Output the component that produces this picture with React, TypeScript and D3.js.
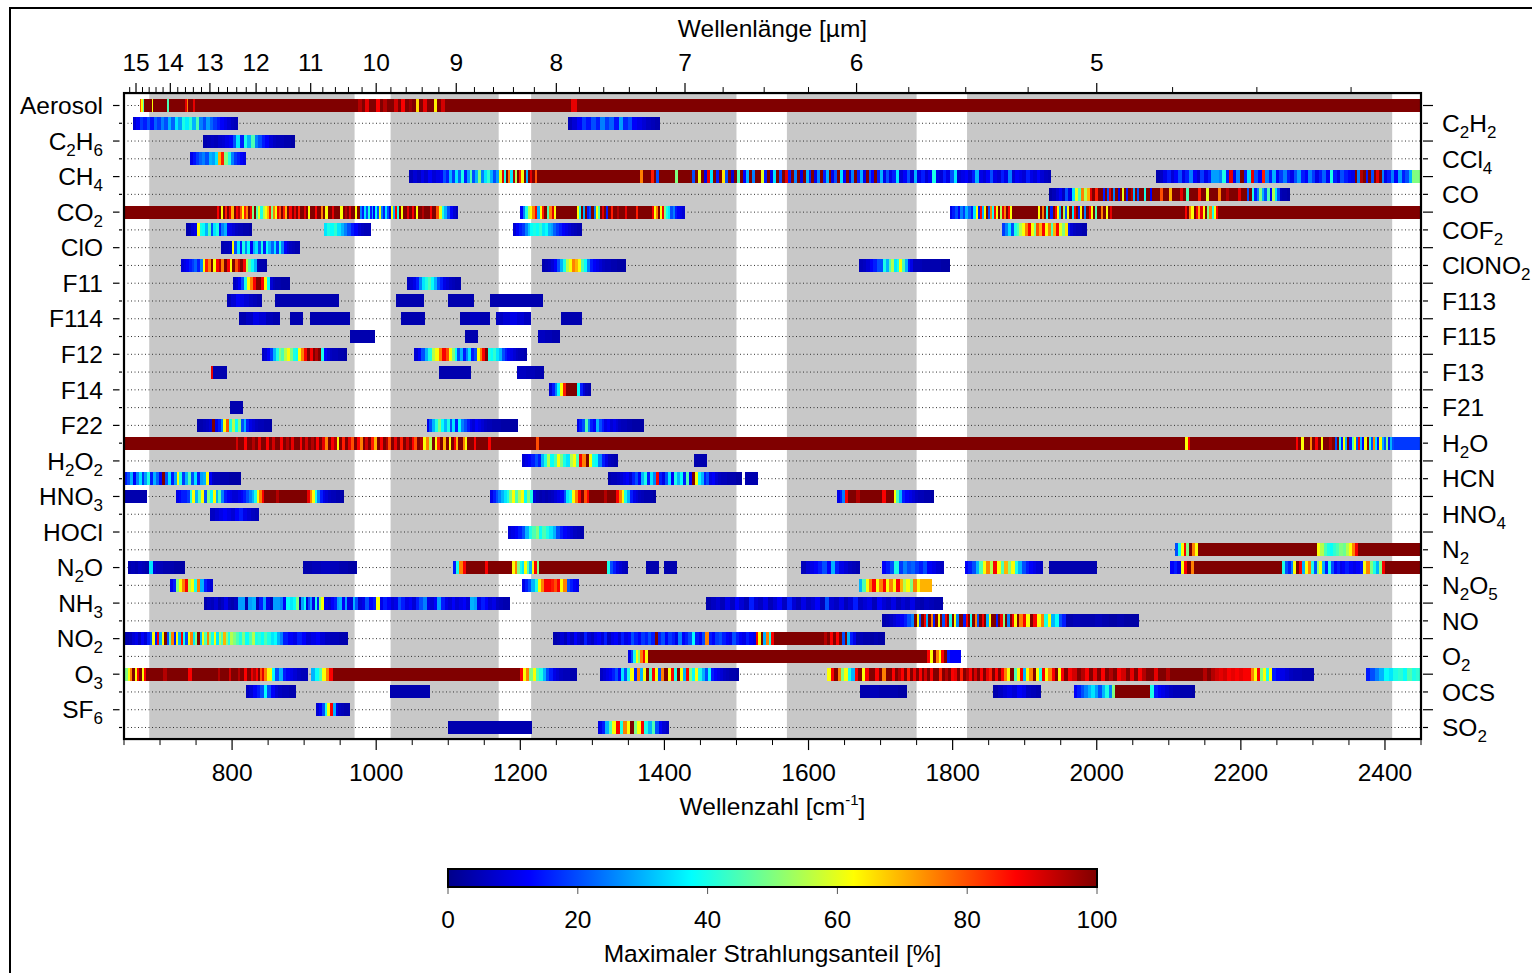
import React from "react";
import * as d3 from "d3";

type Piece = [number, number, number[]];

// Row labels in plotting order (underscore marks a subscript digit)
const gasNames = [
  "Aerosol", "C_2H_2", "C_2H_6", "CCl_4", "CH_4", "CO", "CO_2", "COF_2", "ClO", "ClONO_2",
  "F11", "F113", "F114", "F115", "F12", "F13", "F14", "F21", "F22", "H_2O",
  "H_2O_2", "HCN", "HNO_3", "HNO_4", "HOCl", "N_2", "N_2O", "N_2O_5", "NH_3", "NO",
  "NO_2", "O_2", "O_3", "OCS", "SF_6", "SO_2",
];

// MIPAS spectral bands (cm^-1)
const mipasBands: [number, number][] = [
  [685, 970], [1020, 1170], [1215, 1500], [1570, 1750], [1820, 2410],
];

const wavenumberLabels = [800, 1000, 1200, 1400, 1600, 1800, 2000, 2200, 2400];
const wavelengthLabels = [15, 14, 13, 12, 11, 10, 9, 8, 7, 6, 5];
const wavelengthMinor = [
  15.2, 14.8, 14.6, 14.4, 14.2, 13.8, 13.6, 13.4, 13.2, 12.8, 12.6, 12.4, 12.2,
  11.8, 11.6, 11.4, 11.2, 10.8, 10.6, 10.4, 10.2, 9.8, 9.6, 9.4, 9.2,
  8.8, 8.6, 8.4, 8.2, 7.8, 7.6, 7.4, 7.2, 6.75, 6.5, 6.25, 5.75, 5.5, 5.25,
  4.75, 4.5, 4.25,
];
const colorbarTicks = [0, 20, 40, 60, 80, 100];

// Maximum radiance contribution [%] per gas: [from, to, values spread evenly]
const aerosol: Piece[] = [
  [672, 714, [80, 62, 45, 100, 100, 100, 100, 100, 62, 100, 100, 100, 100, 100, 100, 100, 100, 100, 45, 100]],
  [714, 760, [100, 100, 100, 100, 100, 100, 100, 100, 100, 90, 75, 100, 100, 100, 90, 100, 100, 100, 100, 100]],
  [760, 970, [100]],
  [970, 1100, [100, 95, 100, 90, 100, 100, 88, 100, 95, 100, 100, 92, 100, 88, 100, 97, 100, 66, 100, 90, 100, 100, 64, 100, 92, 100]],
  [1100, 1270, [100]],
  [1270, 1278, [90]],
  [1278, 2450, [100]],
];
const c2h2: Piece[] = [
  [662, 808, [8, 12, 18, 15, 20, 14, 22, 18, 25, 20, 30, 22, 35, 28, 40, 36, 42, 30, 45, 25, 20, 28, 22, 18, 15, 12, 10, 8, 6, 5]],
  [1266, 1394, [5, 8, 12, 18, 14, 20, 15, 25, 18, 22, 14, 28, 16, 20, 12, 10, 8, 6, 5, 4]],
];
const c2h6: Piece[] = [
  [760, 887, [4, 5, 6, 5, 7, 8, 10, 12, 20, 35, 15, 40, 30, 45, 25, 20, 15, 12, 8, 6, 5, 5, 4, 4, 3]],
];
const ccl4: Piece[] = [
  [741, 820, [10, 14, 18, 22, 25, 20, 30, 28, 35, 70, 85, 50, 40, 25, 18, 15, 12, 10]],
];
const ch4: Piece[] = [
  [1046, 1088, [5, 8, 6, 10, 7, 12, 8, 10]],
  [1088, 1171, [12, 20, 15, 30, 18, 35, 22, 40, 15, 28, 45, 20, 30, 50, 25, 35, 42, 30, 20, 28]],
  [1171, 1226, [60, 90, 40, 100, 75, 35, 95, 55, 100, 85, 62, 100, 30, 100, 90, 100, 80, 100]],
  [1226, 1366, [100]],
  [1366, 1434, [75, 100, 100, 100, 85, 100, 20, 100, 100, 100, 100, 100, 100, 50, 100, 100, 100, 100]],
  [1434, 1600, [100, 20, 100, 60, 100, 10, 90, 35, 100, 15, 100, 65, 20, 100, 8, 100, 45, 100, 12, 30, 100, 25, 100, 100, 60, 15, 100, 10, 35, 100, 20, 100, 90, 15, 100, 25, 100, 10, 100, 30]],
  [1600, 1711, [15, 100, 10, 25, 100, 15, 30, 100, 10, 20, 100, 35, 12, 100, 8, 25, 100, 15, 30, 10, 100, 20, 12, 100, 15, 30, 10, 20]],
  [1711, 1937, [10, 15, 35, 8, 12, 20, 8, 30, 10, 15, 8, 12, 40, 10, 8, 15, 10, 20, 35, 8, 10, 12, 8, 15, 30, 10, 8, 12, 20, 10, 8, 15, 10, 25, 8, 12, 10, 8, 15, 10, 8, 12, 8, 6, 5]],
  [2082, 2159, [4, 6, 10, 15, 8, 12, 20, 10, 15, 25, 12, 8, 18, 10, 15]],
  [2159, 2174, [28, 28, 28, 25]],
  [2174, 2358, [40, 15, 90, 10, 25, 100, 15, 35, 90, 20, 12, 85, 25, 15, 30, 12, 18, 25, 15, 10, 20, 28, 15, 12, 25, 18, 10, 15, 22, 12, 40, 15, 10, 20, 15, 12, 10]],
  [2358, 2403, [100, 25, 95, 100, 15, 100, 20, 100, 90, 100, 25, 10]],
  [2403, 2438, [15, 25, 12, 28, 15, 20, 30]],
  [2438, 2450, [50, 50]],
];
const co: Piece[] = [
  [1934, 1965, [3, 5, 8, 12, 6, 20, 10]],
  [1965, 1990, [35, 60, 45, 75, 55, 70]],
  [1990, 2005, [90, 100, 85, 100]],
  [2005, 2080, [100, 15, 100, 20, 90, 100, 25, 100, 10, 100, 60, 100, 15, 100, 95, 30, 100, 20, 100, 100, 40, 100, 100, 12, 100]],
  [2080, 2208, [100, 100, 80, 100, 100, 70, 100, 100, 100, 90, 100, 45, 100, 100, 100, 85, 100, 100, 60, 100, 100, 100, 75, 100, 100, 95, 100, 100, 100, 90, 100, 100]],
  [2208, 2254, [20, 100, 40, 15, 25, 50, 30, 20, 45, 12, 55, 35, 20]],
  [2254, 2268, [5, 4, 4, 3]],
];
const co2: Piece[] = [
  [650, 779, [100]],
  [779, 894, [88, 100, 62, 100, 85, 100, 90, 70, 100, 88, 95, 80, 62, 85, 75, 100, 88, 50, 100, 45, 60, 40, 55, 62, 70, 85, 50, 75, 62, 90, 80, 100, 85, 70, 100, 88, 100, 90, 100, 85]],
  [894, 977, [100, 100, 90, 100, 62, 100, 100, 88, 100, 100, 75, 100, 62, 100, 100, 90, 100, 100, 100, 62, 100, 95, 100, 90, 100, 100, 62, 100]],
  [977, 1032, [25, 15, 35, 20, 40, 15, 30, 12, 38, 20, 60, 25, 15, 35, 20, 10, 62, 30, 88, 40]],
  [1032, 1083, [100, 62, 100, 100, 90, 100, 88, 100, 62, 100, 100, 95, 100, 100, 100, 88, 100, 100]],
  [1083, 1114, [80, 60, 40, 30, 20, 12, 8, 5]],
  [1200, 1250, [12, 25, 40, 55, 62, 75, 88, 30, 62, 85, 100, 45, 75, 90, 62]],
  [1250, 1278, [100]],
  [1278, 1337, [62, 40, 100, 30, 100, 15, 20, 100, 25, 62, 45, 100, 90, 100, 15, 100, 85, 100, 100, 95]],
  [1337, 1383, [100, 100, 90, 100, 100, 100, 85, 100, 100, 100, 100, 100]],
  [1383, 1405, [88, 62, 75, 100, 62, 88, 50, 40]],
  [1405, 1428, [35, 20, 25, 15, 12, 10, 8]],
  [1796, 1832, [10, 15, 20, 12, 25, 18, 30, 22, 15, 35]],
  [1832, 1882, [62, 15, 88, 30, 62, 100, 20, 75, 40, 88, 62, 100, 55, 90, 75, 100, 88, 62]],
  [1882, 1918, [100]],
  [1918, 2021, [62, 100, 75, 100, 40, 100, 15, 100, 88, 62, 30, 100, 55, 20, 62, 100, 35, 88, 100, 15, 62, 100, 25, 100, 88, 62, 100, 45, 100, 100, 75, 100, 62, 100, 90]],
  [2021, 2122, [100]],
  [2122, 2172, [88, 100, 75, 62, 100, 88, 70, 90, 62, 100, 50, 75, 40, 62, 88, 100]],
  [2172, 2450, [100]],
];
const cof2: Piece[] = [
  [736, 827, [4, 5, 8, 10, 62, 40, 38, 30, 45, 20, 35, 40, 15, 25, 30, 12, 10, 8, 6, 5, 5, 4, 4, 3]],
  [927, 993, [35, 40, 38, 42, 35, 30, 25, 20, 15, 12, 8, 6, 5, 5]],
  [1190, 1286, [8, 12, 15, 18, 25, 32, 38, 40, 38, 42, 35, 38, 30, 28, 22, 18, 15, 12, 10, 8, 6, 5, 4, 4]],
  [1869, 1987, [18, 25, 35, 20, 40, 45, 55, 62, 75, 88, 62, 50, 80, 70, 88, 62, 75, 45, 70, 88, 60, 50, 65, 15, 8, 6, 5, 5, 4, 4]],
];
const clo: Piece[] = [
  [785, 894, [4, 5, 5, 6, 62, 20, 35, 15, 40, 25, 38, 12, 30, 35, 20, 40, 15, 38, 30, 22, 35, 18, 40, 25, 12, 8, 6, 5, 4, 4]],
];
const clono2: Piece[] = [
  [729, 849, [8, 10, 12, 15, 18, 22, 15, 25, 62, 85, 75, 100, 62, 88, 95, 75, 100, 88, 62, 100, 80, 92, 100, 88, 55, 45, 38, 30, 5, 4, 4, 3]],
  [1230, 1347, [4, 5, 6, 8, 12, 20, 30, 40, 55, 62, 75, 70, 62, 45, 38, 25, 15, 12, 10, 8, 6, 5, 5, 4, 4, 3, 3, 3]],
  [1670, 1700, [5, 6, 8, 12, 15, 20]],
  [1700, 1745, [20, 40, 30, 45, 55, 35, 40, 62, 45, 30, 15, 10]],
  [1745, 1796, [5, 4, 4, 3]],
];
const f11: Piece[] = [
  [801, 880, [6, 8, 12, 20, 40, 62, 75, 88, 100, 100, 88, 62, 38, 8, 5, 4, 4, 3, 3, 3]],
  [1043, 1118, [6, 8, 10, 15, 25, 35, 40, 45, 38, 30, 20, 15, 10, 8, 6, 5, 4, 4]],
];
const f113: Piece[] = [
  [793, 841, [5, 8, 12, 10, 8, 6, 5, 4]],
  [860, 948, [4]],
  [1028, 1067, [4]],
  [1099, 1136, [4]],
  [1158, 1232, [4]],
];
const f114: Piece[] = [
  [810, 866, [4, 6, 10, 8, 5, 4]],
  [880, 898, [4]],
  [908, 963, [4]],
  [1035, 1068, [4]],
  [1116, 1158, [4, 6, 4]],
  [1166, 1215, [6, 8, 10, 8, 6]],
  [1257, 1285, [4]],
];
const f115: Piece[] = [
  [963, 999, [4]],
  [1123, 1141, [4]],
  [1224, 1255, [6, 5, 4]],
];
const f12: Piece[] = [
  [841, 959, [6, 8, 12, 18, 30, 40, 50, 45, 55, 62, 50, 40, 38, 62, 75, 88, 100, 88, 100, 95, 100, 40, 12, 8, 6, 5, 5, 4, 4, 3]],
  [1053, 1101, [8, 12, 20, 30, 40, 55, 62, 75, 88, 80]],
  [1101, 1209, [62, 50, 38, 20, 30, 15, 25, 35, 15, 20, 62, 75, 88, 100, 40, 38, 42, 35, 30, 20, 15, 12, 10, 8, 6, 5, 5, 4]],
];
const f13: Piece[] = [
  [771, 773, [90]],
  [773, 793, [4]],
  [1087, 1131, [4]],
  [1195, 1233, [6, 5, 4]],
];
const f14: Piece[] = [
  [1240, 1298, [8, 15, 25, 38, 62, 85, 100, 100, 100, 100, 38, 15, 8, 5, 4]],
];
const f21: Piece[] = [
  [797, 815, [4]],
];
const f22: Piece[] = [
  [752, 856, [4, 4, 5, 6, 8, 100, 10, 15, 25, 62, 80, 40, 55, 38, 50, 20, 30, 15, 10, 8, 6, 5, 5, 4, 4, 3]],
  [1070, 1197, [10, 20, 30, 40, 50, 38, 30, 40, 20, 35, 15, 38, 25, 20, 15, 10, 8, 12, 10, 8, 6, 5, 5, 4, 4, 4, 3, 3, 3, 3, 3, 3]],
  [1278, 1371, [10, 15, 20, 45, 25, 15, 12, 30, 20, 15, 10, 12, 8, 10, 8, 6, 5, 5, 4, 4, 3, 3, 3, 3]],
];
const h2o: Piece[] = [
  [650, 801, [100]],
  [801, 917, [100, 92, 100, 100, 88, 100, 100, 95, 100, 90, 100, 100, 88, 100, 92, 100, 100, 88, 100, 95, 100, 90, 100, 100, 88, 100, 92, 100, 95, 100]],
  [917, 1101, [88, 100, 90, 75, 100, 88, 95, 62, 100, 85, 100, 90, 80, 100, 88, 75, 100, 92, 100, 85, 70, 100, 88, 100, 95, 80, 100, 90, 100, 85, 100, 92, 100, 88, 80, 100, 95, 62, 75, 55, 100, 62, 85, 100, 70, 100]],
  [1101, 1139, [62, 100, 88, 70, 100, 100, 75, 62, 100, 100, 100, 88]],
  [1139, 1230, [100, 100, 100, 100, 88, 100, 100, 100, 100, 100, 100, 100, 100, 100, 100, 100, 100, 100, 100, 100, 100, 80, 100]],
  [1230, 2122, [100]],
  [2122, 2130, [62, 88]],
  [2130, 2276, [100]],
  [2276, 2330, [88, 100, 62, 100, 100, 75, 100, 88, 100, 62, 100, 100, 95, 100]],
  [2330, 2413, [20, 100, 40, 15, 62, 30, 100, 15, 45, 62, 20, 88, 30, 12, 62, 100, 40, 20, 75, 35, 15, 62, 30, 20, 50, 15, 30, 20]],
  [2413, 2450, [18, 18]],
];
const h2o2: Piece[] = [
  [1202, 1335, [8, 10, 12, 15, 20, 15, 30, 40, 55, 38, 45, 62, 50, 40, 35, 55, 62, 45, 88, 75, 100, 62, 40, 38, 25, 15, 10, 6, 5, 4]],
  [1441, 1459, [4]],
];
const hcn: Piece[] = [
  [650, 812, [15, 20, 30, 12, 25, 35, 18, 28, 40, 15, 30, 22, 12, 100, 20, 35, 15, 28, 62, 40, 18, 30, 45, 20, 35, 15, 28, 30, 62, 12, 6, 5, 5, 4, 4, 4, 3, 3, 3, 3]],
  [1322, 1508, [4, 5, 5, 6, 8, 10, 12, 8, 15, 20, 12, 30, 40, 15, 35, 25, 88, 15, 10, 20, 35, 12, 40, 30, 38, 15, 45, 12, 100, 62, 38, 30, 15, 20, 10, 12, 8, 6, 5, 5, 4, 4, 4, 3, 3]],
  [1512, 1530, [4]],
];
const hno3: Piece[] = [
  [652, 682, [4]],
  [722, 741, [10, 12, 15, 15, 18]],
  [741, 789, [40, 62, 30, 45, 62, 20, 50, 38, 62, 30, 45, 25]],
  [789, 831, [15, 12, 10, 8, 8, 10, 12, 15, 20, 25, 30]],
  [831, 841, [40, 62, 75]],
  [841, 908, [88, 100, 100, 100, 100, 95, 100, 100, 100, 100, 100, 100, 100, 100, 100, 100, 90]],
  [908, 918, [75, 62, 40]],
  [918, 956, [25, 15, 10, 8, 6, 5, 5, 4, 4, 3]],
  [1158, 1181, [10, 15, 20, 25, 30, 35]],
  [1181, 1217, [40, 50, 62, 45, 55, 62, 38, 50, 40]],
  [1217, 1260, [8, 5, 4, 5, 4, 5, 6, 8, 10, 12]],
  [1260, 1272, [20, 35, 40]],
  [1272, 1296, [62, 75, 88, 100, 80, 88]],
  [1296, 1333, [100, 100, 100, 100, 100, 95, 100, 100, 100]],
  [1333, 1352, [88, 75, 62, 40, 30]],
  [1352, 1388, [15, 10, 8, 6, 5, 4, 4, 4, 3]],
  [1639, 1655, [10, 15, 25, 88]],
  [1655, 1718, [100, 100, 95, 100, 100, 100, 100, 100, 100, 88, 100, 100]],
  [1718, 1730, [62, 45, 30]],
  [1730, 1774, [15, 12, 10, 8, 6, 5, 5, 4, 4, 3]],
];
const hno4: Piece[] = [
  [770, 838, [6, 8, 10, 12, 10, 8, 12, 15, 10, 8, 6, 5]],
];
const hocl: Piece[] = [
  [1183, 1288, [8, 10, 12, 15, 20, 30, 40, 45, 50, 38, 45, 40, 35, 30, 20, 15, 12, 10, 8, 6, 5, 4]],
];
const n2: Piece[] = [
  [2109, 2140, [20, 40, 62, 88, 50, 100, 75, 62]],
  [2140, 2306, [100]],
  [2306, 2363, [62, 55, 45, 40, 38, 42, 45, 50, 48, 55, 62, 75, 88]],
  [2363, 2450, [100]],
];
const n2o: Piece[] = [
  [655, 734, [4, 5, 4, 6, 5, 4, 35, 8, 6, 5, 4, 4, 4, 3, 3, 3]],
  [898, 974, [4, 5, 6, 5, 4, 3]],
  [1106, 1130, [15, 40, 75, 88, 100]],
  [1130, 1189, [100, 100, 100, 100, 100, 88, 100, 100, 100, 100, 100, 100, 100, 100]],
  [1189, 1226, [62, 75, 50, 40, 35, 62, 45, 30, 62, 88, 50]],
  [1226, 1320, [100]],
  [1320, 1349, [40, 20, 15, 10, 8, 6, 5]],
  [1375, 1393, [4]],
  [1400, 1418, [4]],
  [1590, 1672, [5, 8, 10, 12, 15, 20, 12, 30, 15, 10, 8, 6, 5, 4]],
  [1702, 1788, [12, 15, 20, 40, 18, 25, 20, 22, 18, 15, 20, 12, 10, 8, 6]],
  [1817, 1926, [12, 15, 20, 30, 45, 62, 75, 55, 88, 62, 45, 70, 50, 62, 40, 30, 20, 15, 12, 10, 8, 6]],
  [1934, 2001, [4]],
  [2102, 2140, [12, 15, 10, 62, 88, 100, 75, 100]],
  [2140, 2257, [100]],
  [2257, 2345, [40, 20, 15, 25, 62, 100, 88, 30, 62, 75, 40, 20, 50, 62, 30, 15, 40, 20, 12, 15, 10, 12]],
  [2345, 2370, [15, 12, 10, 12, 15]],
  [2370, 2400, [62, 75, 50, 40, 30, 50, 88]],
  [2400, 2450, [100]],
];
const n2o5: Piece[] = [
  [714, 773, [10, 15, 50, 62, 75, 88, 55, 62, 40, 75, 30, 15, 10, 8]],
  [1202, 1282, [10, 15, 20, 30, 40, 62, 75, 88, 88, 85, 80, 88, 62, 75, 20, 15, 12, 10]],
  [1670, 1712, [30, 45, 62, 75, 88, 62, 75, 88, 62]],
  [1712, 1755, [75, 62, 88, 70, 55, 62, 50, 75, 62]],
  [1755, 1772, [70]],
];
const nh3: Piece[] = [
  [761, 808, [4, 6, 5, 8, 4, 6, 10, 5, 4, 6]],
  [808, 857, [28, 28, 4, 28, 30, 5, 15, 28, 10, 5]],
  [857, 880, [28, 28, 25, 12, 38]],
  [880, 893, [35, 38, 50]],
  [893, 930, [4, 28, 38, 8, 20, 28, 10, 40, 15, 50, 62, 10]],
  [930, 975, [10, 8, 12, 15, 28, 30, 12, 28, 10, 8, 30, 20]],
  [975, 1040, [8, 10, 20, 12, 15, 62, 10, 15, 12, 8, 10, 20, 15]],
  [1040, 1110, [10, 12, 8, 15, 20, 25, 10, 8, 12, 28, 15, 10, 8, 12]],
  [1110, 1186, [8, 10, 12, 8, 30, 28, 10, 15, 12, 8, 10, 6, 5, 4, 4]],
  [1458, 1787, [4, 6, 8, 5, 10, 6, 12, 8, 5, 15, 8, 6, 10, 5, 8, 12, 6, 15, 8, 5, 10, 6, 8, 12, 5, 20, 8, 6, 10, 5, 8, 15, 6, 8, 10, 5, 12, 8, 6, 10, 5, 8, 6, 10, 5, 4, 6, 5, 4, 4]],
];
const no: Piece[] = [
  [1702, 1747, [4, 5, 6, 8, 10, 12, 15, 20, 25]],
  [1747, 1892, [100, 62, 20, 100, 88, 30, 100, 75, 15, 100, 62, 100, 20, 88, 100, 40, 100, 62, 25, 100, 100, 15, 88, 100, 40, 100, 75, 20, 100, 88, 100, 30, 62, 100, 100, 15, 100, 88, 50, 100, 25, 100, 88, 62, 100]],
  [1892, 1957, [75, 88, 62, 100, 88, 62, 75, 40, 62, 30, 38, 20, 15]],
  [1957, 2058, [4, 5, 4, 4, 5, 4, 3, 4, 3, 3]],
];
const no2: Piece[] = [
  [652, 686, [4, 5, 8, 10, 6, 12, 8, 15]],
  [686, 801, [20, 62, 15, 88, 30, 62, 100, 20, 45, 75, 15, 62, 30, 88, 40, 20, 62, 75, 35, 50, 100, 30, 62, 45, 75, 50, 40, 62, 35, 55, 45, 70, 50, 40, 55]],
  [801, 871, [50, 45, 40, 50, 38, 45, 55, 40, 42, 38, 45, 40, 35, 38, 30, 25]],
  [871, 961, [15, 12, 10, 15, 12, 8, 10, 12, 8, 6, 5, 5, 4, 4]],
  [1246, 1527, [4, 5, 8, 5, 10, 6, 12, 8, 5, 15, 8, 6, 10, 12, 8, 15, 6, 10, 12, 8, 15, 10, 12, 20, 15, 12, 18, 15, 20, 15, 100, 15, 20, 12, 18, 15, 10, 25, 12, 15, 20, 38, 15, 12, 20, 75, 15, 12, 18, 20, 15, 12, 10, 20, 15, 12, 10, 15, 12, 10]],
  [1527, 1555, [88, 62, 100, 30, 75, 40, 88, 100]],
  [1555, 1638, [100, 100, 100, 100, 100, 100, 100, 100, 100, 100, 100, 100, 100, 100, 100, 100, 95, 100, 88, 100]],
  [1638, 1666, [88, 100, 20, 100, 30, 15, 10]],
  [1666, 1706, [4, 5, 4, 4, 3, 4, 3, 3]],
];
const o2: Piece[] = [
  [1350, 1380, [10, 20, 40, 62, 50, 75, 88, 62, 100]],
  [1380, 1765, [100]],
  [1765, 1792, [88, 62, 100, 75, 62, 88, 100]],
  [1792, 1811, [15, 12, 12, 12]],
];
const o3: Piece[] = [
  [652, 684, [50, 62, 75, 100, 62, 88, 100, 62, 88, 100]],
  [684, 774, [100, 100, 100, 100, 95, 100, 100, 100, 100, 100, 100, 88, 100, 100, 100, 100, 100, 100]],
  [774, 848, [100, 100, 95, 100, 100, 100, 100, 92, 100, 100, 100, 95, 100, 100, 88, 100, 100, 90, 95, 88, 100, 80, 90, 75]],
  [848, 855, [62, 62]],
  [855, 905, [38, 20, 30, 15, 12, 10, 8, 6, 5, 5]],
  [910, 940, [30, 38, 45, 62, 75, 88]],
  [940, 1199, [100]],
  [1199, 1240, [88, 62, 75, 50, 62, 45, 40, 30, 20]],
  [1240, 1278, [15, 10, 8, 6, 5, 5, 4, 4]],
  [1310, 1503, [6, 8, 10, 12, 15, 20, 12, 35, 20, 40, 62, 15, 75, 30, 62, 100, 45, 88, 62, 20, 75, 100, 62, 88, 40, 100, 62, 30, 88, 50, 38, 62, 40, 30, 20, 38, 15, 12, 10, 8, 6, 5, 4, 4, 3]],
  [1626, 1712, [62, 88, 100, 75, 50, 62, 40, 30, 88, 100, 62, 88, 100, 100, 88, 100, 75, 100]],
  [1712, 1867, [100, 88, 100, 95, 88, 100, 85, 100, 90, 100, 88, 100, 92, 100, 88, 100, 100, 85, 100, 95, 100, 88, 90, 100, 85, 100, 95, 88, 100, 92, 100, 88, 100, 90, 85, 100, 88, 100]],
  [1867, 1955, [88, 75, 62, 100, 45, 62, 88, 30, 62, 75, 100, 62, 40, 88, 62, 75, 88, 100, 62, 88]],
  [1955, 2125, [100, 88, 92, 100, 95, 88, 100, 90, 100, 88, 100, 95, 100, 88, 92, 100, 90, 100, 88, 95, 100, 100, 90, 100, 100, 95, 100, 100, 100, 100]],
  [2125, 2214, [100, 100, 100, 100, 95, 100, 95, 92, 90, 92, 88, 90, 88, 90, 88, 88]],
  [2214, 2243, [75, 62, 88, 50, 62, 40, 62]],
  [2243, 2302, [15, 12, 10, 8, 6, 5, 5, 4, 4, 4]],
  [2373, 2450, [15, 20, 25, 30, 38, 35, 40, 42, 38, 45, 40, 42]],
];
const ocs: Piece[] = [
  [819, 889, [6, 8, 12, 15, 20, 38, 20, 12, 8, 6, 5, 5, 4, 4]],
  [1019, 1074, [4]],
  [1672, 1737, [4, 5, 4, 4, 3]],
  [1856, 1922, [4, 6, 8, 10, 8, 12, 10, 6, 5, 4]],
  [1968, 2026, [12, 15, 20, 25, 30, 35, 28, 20, 30, 40, 25, 50]],
  [2026, 2074, [100]],
  [2074, 2137, [40, 15, 12, 10, 8, 6, 5, 5, 4, 4, 4, 3]],
];
const sf6: Piece[] = [
  [917, 963, [8, 12, 20, 40, 62, 88, 30, 10, 6, 5, 4, 4]],
];
const so2: Piece[] = [
  [1099, 1216, [4]],
  [1308, 1407, [10, 15, 30, 45, 62, 88, 40, 75, 62, 100, 50, 62, 88, 40, 30, 45, 20, 12, 8, 6]],
];

const gasPieces: Piece[][] = [
  aerosol, c2h2, c2h6, ccl4, ch4, co, co2, cof2, clo, clono2,
  f11, f113, f114, f115, f12, f13, f14, f21, f22, h2o,
  h2o2, hcn, hno3, hno4, hocl, n2, n2o, n2o5, nh3, no,
  no2, o2, o3, ocs, sf6, so2,
];

// Jet colour map
const jetStops = [0, 12.5, 37.5, 62.5, 87.5, 100];
const jetColors = ["#00008a", "#0000ff", "#00ffff", "#ffff00", "#ff0000", "#800000"];
const jet = d3.scaleLinear<string>().domain(jetStops).range(jetColors).interpolate(d3.interpolateRgb).clamp(true);

const FONT = "'Liberation Sans', Arial, Helvetica, sans-serif";
const FS = 24.5;
const SUB = 17;

function Formula({ text, x, y, anchor }: { text: string; x: number; y: number; anchor: "start" | "end" }) {
  const nodes: React.ReactNode[] = [];
  let buf = "";
  let shifted = false;
  let k = 0;
  const flush = () => {
    if (buf) {
      nodes.push(<tspan key={k++} dy={shifted ? -6 : 0}>{buf}</tspan>);
      shifted = false;
      buf = "";
    }
  };
  for (let i = 0; i < text.length; i++) {
    if (text[i] === "_") {
      flush();
      nodes.push(<tspan key={k++} fontSize={SUB} dy={6}>{text[i + 1]}</tspan>);
      shifted = true;
      i++;
    } else {
      buf += text[i];
    }
  }
  flush();
  return (
    <text x={x} y={y} textAnchor={anchor} fontSize={FS} fontFamily={FONT} fill="#000">
      {nodes}
    </text>
  );
}

export default function App() {
  const left = 124, right = 1421;
  const x = d3.scaleLinear().domain([650, 2450]).range([left, right]);
  const y = d3.scaleLinear().domain([0, 35]).range([105.5, 727.5]);
  const top = y(-0.7), bottom = y(35.65);
  const barH = 13;

  const minorWn = d3.range(650, 2451, 50).filter((v) => !wavenumberLabels.includes(v));
  const cb = d3.scaleLinear().domain([0, 100]).range([448, 1097]);
  const cbTop = 869, cbBot = 887;

  return (
    <svg width={1532} height={973} style={{ position: "absolute", left: 0, top: 0, background: "#fff" }} fontFamily={FONT}>
      <rect x={0} y={0} width={1532} height={973} fill="#fff" />
      <rect x={10} y={8} width={1540} height={1000} fill="none" stroke="#000" strokeWidth={2} />

      {/* band shading */}
      {mipasBands.map(([a, b], i) => (
        <rect key={i} x={x(a)} y={top} width={x(b) - x(a)} height={bottom - top} fill="#c8c8c8" />
      ))}

      {/* dotted row guides */}
      {gasNames.map((_, i) => (
        <line key={i} x1={left} x2={right} y1={y(i)} y2={y(i)} stroke="#333" strokeWidth={1} strokeDasharray="1 2.5" />
      ))}

      {/* spectral bars */}
      <g shapeRendering="crispEdges">
        {gasPieces.map((pieces, i) =>
          pieces.map(([a, b, vals], j) => {
            const x0 = x(a);
            const w = (x(b) - x0) / vals.length;
            return vals.map((v, k) => (
              <rect
                key={`${i}-${j}-${k}`}
                x={x0 + k * w}
                y={y(i) - barH / 2}
                width={k === vals.length - 1 ? w : w + 0.5}
                height={barH}
                fill={jet(v)}
              />
            ));
          })
        )}
      </g>

      {/* frame */}
      <rect x={left} y={top} width={right - left} height={bottom - top} fill="none" stroke="#000" strokeWidth={2.2} />

      {/* row ticks */}
      {gasNames.map((_, i) =>
        i % 2 === 0 ? (
          <g key={i} stroke="#000" strokeWidth={1.2}>
            <line x1={113} x2={119.5} y1={y(i)} y2={y(i)} />
            <line x1={right + 2} x2={right + 12} y1={y(i)} y2={y(i)} />
          </g>
        ) : (
          <g key={i} stroke="#000" strokeWidth={1.2}>
            <line x1={119} x2={122} y1={y(i)} y2={y(i)} />
            <line x1={right + 2} x2={right + 7} y1={y(i)} y2={y(i)} />
          </g>
        )
      )}

      {/* row labels */}
      {gasNames.map((name, i) =>
        i % 2 === 0 ? (
          <Formula key={i} text={name} x={103} y={y(i) + 8.7} anchor="end" />
        ) : (
          <Formula key={i} text={name} x={1442} y={y(i) + 8.7} anchor="start" />
        )
      )}

      {/* bottom axis */}
      {minorWn.map((v) => (
        <line key={v} x1={x(v)} x2={x(v)} y1={bottom + 1} y2={bottom + 6} stroke="#000" strokeWidth={1} />
      ))}
      {wavenumberLabels.map((v) => (
        <g key={v}>
          <line x1={x(v)} x2={x(v)} y1={bottom + 1} y2={bottom + 11} stroke="#000" strokeWidth={1.2} />
          <text x={x(v)} y={781} textAnchor="middle" fontSize={FS}>{v}</text>
        </g>
      ))}
      <text x={(left + right) / 2} y={815} textAnchor="middle" fontSize={FS}>
        Wellenzahl [cm<tspan fontSize={15} dy={-10}>-1</tspan><tspan dy={10}>]</tspan>
      </text>

      {/* top axis (wavelength) */}
      {wavelengthMinor.map((v) => (
        <line key={v} x1={x(10000 / v)} x2={x(10000 / v)} y1={top - 1} y2={top - 6} stroke="#000" strokeWidth={1} />
      ))}
      {wavelengthLabels.map((v) => (
        <g key={v}>
          <line x1={x(10000 / v)} x2={x(10000 / v)} y1={top - 1} y2={top - 10} stroke="#000" strokeWidth={1.2} />
          <text x={x(10000 / v)} y={71} textAnchor="middle" fontSize={FS}>{v}</text>
        </g>
      ))}
      <text x={(left + right) / 2} y={37} textAnchor="middle" fontSize={FS}>Wellenlänge [µm]</text>

      {/* colour bar */}
      <defs>
        <linearGradient id="jetGrad" x1="0" x2="1" y1="0" y2="0">
          {jetStops.map((s, i) => (
            <stop key={i} offset={`${s}%`} stopColor={jetColors[i]} />
          ))}
        </linearGradient>
      </defs>
      <rect x={cb(0)} y={cbTop} width={cb(100) - cb(0)} height={cbBot - cbTop} fill="url(#jetGrad)" stroke="#000" strokeWidth={2} />
      {colorbarTicks.map((v) => (
        <g key={v}>
          <line x1={cb(v)} x2={cb(v)} y1={cbBot + 1} y2={cbBot + 7} stroke="#555" strokeWidth={1} />
          <text x={cb(v)} y={928} textAnchor="middle" fontSize={FS}>{v}</text>
        </g>
      ))}
      <text x={cb(50)} y={962} textAnchor="middle" fontSize={FS}>Maximaler Strahlungsanteil [%]</text>
    </svg>
  );
}
